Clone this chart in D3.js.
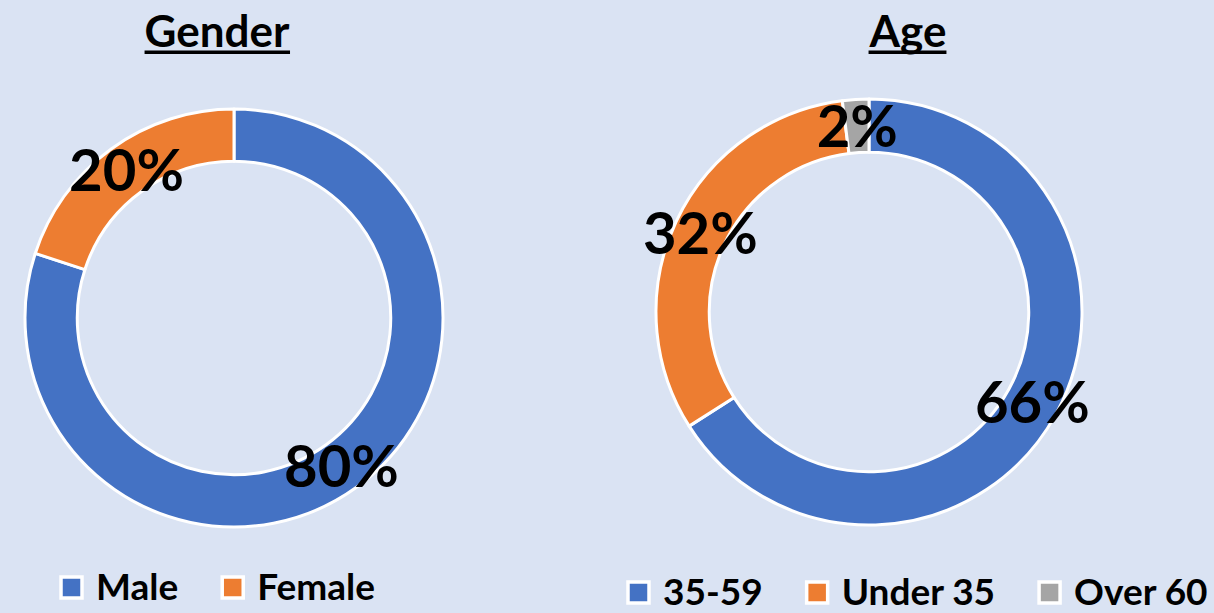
<!DOCTYPE html>
<html>
<head>
<meta charset="utf-8">
<script src="https://cdn.jsdelivr.net/npm/d3@7"></script>
<style>
  body { margin: 0; background: #dae3f3; }
  svg { display: block; }
  text { font-family: Lato, "Open Sans", sans-serif; font-weight: bold; fill: #000; }
</style>
</head>
<body>
<svg id="chart" width="1214" height="613"></svg>
<script>
// data
var genderCats = ["Male", "Female"];
var genderVals = [80, 20];
var ageCats = ["35-59", "Under 35", "Over 60"];
var ageVals = [66, 32, 2];
var colors = ["#4472c4", "#ed7d31", "#a5a5a5"];

var svg = d3.select("#chart");

var pie = d3.pie().sort(null).value(function(d) { return d; });

function donut(opt) {
  var g = svg.append("g").attr("class", "donut");

  // title with underline
  var t = g.append("text")
      .attr("x", opt.titleX)
      .attr("y", 47)
      .attr("text-anchor", "middle")
      .style("font-size", "44px")
      .text(opt.title);
  var tb = t.node().getBBox();
  g.append("rect")
      .attr("x", tb.x)
      .attr("y", 50.5)
      .attr("width", tb.width)
      .attr("height", 3.5)
      .attr("fill", "#000");

  var arc = d3.arc().innerRadius(opt.r * 0.75).outerRadius(opt.r);
  var labelArc = d3.arc().innerRadius(opt.r * 0.875).outerRadius(opt.r * 0.875);

  var c = g.append("g").attr("transform", "translate(" + opt.cx + "," + opt.cy + ")");
  var arcs = pie(opt.values);

  c.selectAll("path")
      .data(arcs)
    .enter().append("path")
      .attr("d", arc)
      .attr("fill", function(d, i) { return colors[i]; })
      .attr("stroke", "#fff")
      .attr("stroke-width", 3)
      .attr("stroke-linejoin", "round");

  c.selectAll("text")
      .data(arcs)
    .enter().append("text")
      .attr("transform", function(d) { return "translate(" + labelArc.centroid(d) + ")"; })
      .attr("text-anchor", "middle")
      .attr("dy", "0.36em")
      .style("font-size", "58px")
      .text(function(d) { return d.data + "%"; });

  // legend
  var lg = g.append("g").attr("transform", "translate(0," + opt.legendY + ")");
  var x = opt.legendX;
  opt.cats.forEach(function(name, i) {
    lg.append("rect")
        .attr("x", x + 3)
        .attr("y", -23)
        .attr("width", 21)
        .attr("height", 21)
        .attr("fill", colors[i])
        .attr("stroke", "#fff")
        .attr("stroke-width", 3.5);
    var lt = lg.append("text")
        .attr("x", x + 38)
        .attr("y", 0)
        .style("font-size", "37px")
        .text(name);
    x = x + 38 + lt.node().getComputedTextLength() + opt.legendGap;
  });
}

donut({
  title: "Gender", titleX: 217,
  cx: 234, cy: 318, r: 209,
  values: genderVals, cats: genderCats,
  legendX: 58, legendY: 600, legendGap: 41
});

donut({
  title: "Age", titleX: 908,
  cx: 869, cy: 312, r: 213,
  values: ageVals, cats: ageCats,
  legendX: 625, legendY: 605, legendGap: 41
});
</script>
</body>
</html>
